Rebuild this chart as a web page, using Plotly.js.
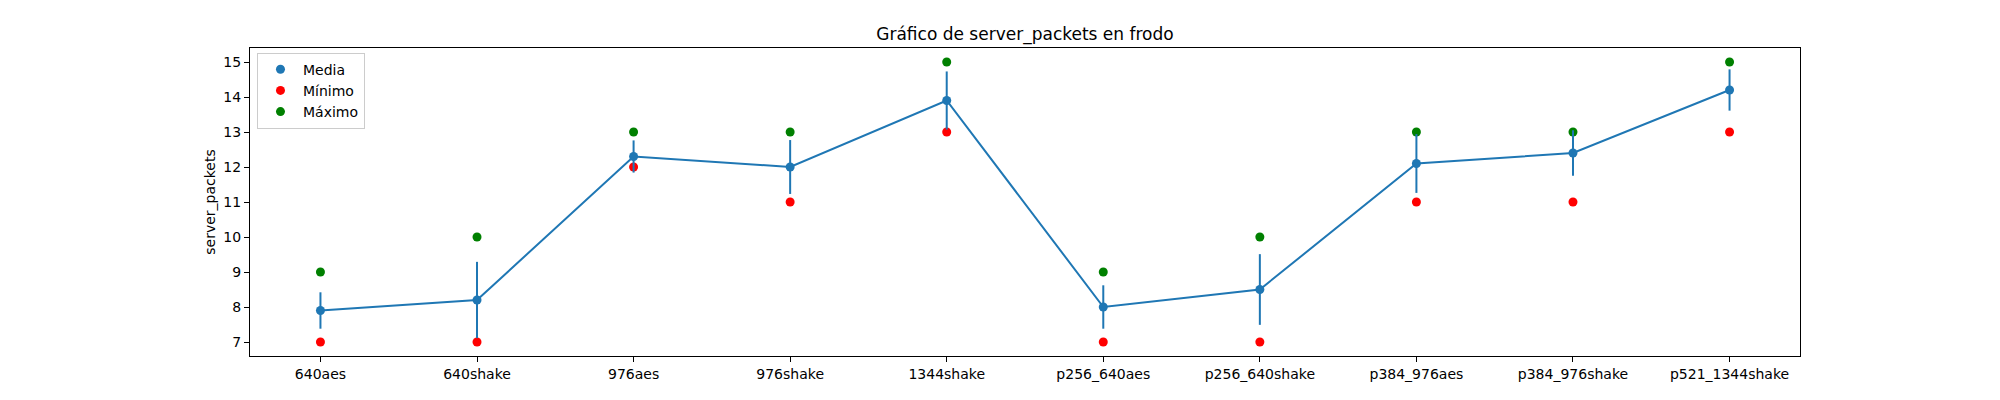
<!DOCTYPE html>
<html>
<head>
<meta charset="utf-8">
<script src="https://cdn.plot.ly/plotly-3.0.1.min.js"></script>
<style>html,body{margin:0;padding:0;background:#fff;}#chart{width:2000px;height:400px;}</style>
</head>
<body>
<div id="chart"></div>
<script>
const categories = ["640aes","640shake","976aes","976shake","1344shake","p256_640aes","p256_640shake","p384_976aes","p384_976shake","p521_1344shake"];
const meanValues = [7.9, 8.2, 12.3, 12.0, 13.9, 8.0, 8.5, 12.1, 12.4, 14.2];
const stdValues  = [0.52, 1.09, 0.46, 0.77, 0.83, 0.62, 1.01, 0.84, 0.65, 0.59];
const minValues  = [7, 7, 12, 11, 13, 7, 7, 11, 11, 13];
const maxValues  = [9, 10, 13, 13, 15, 9, 10, 13, 13, 15];

const font = "DejaVu Sans, sans-serif";
const blue = "#1f77b4";

const traces = [
  {x: categories, y: minValues, type: "scatter", mode: "markers", name: "Mínimo",
   marker: {color: "red", size: 9}, legendrank: 2},
  {x: categories, y: maxValues, type: "scatter", mode: "markers", name: "Máximo",
   marker: {color: "green", size: 9}, legendrank: 3},
  {x: categories, y: meanValues, type: "scatter", mode: "lines", showlegend: false,
   line: {color: blue, width: 2},
   error_y: {type: "data", array: stdValues, visible: true, color: blue, thickness: 2, width: 0}},
  {x: categories, y: meanValues, type: "scatter", mode: "markers", name: "Media",
   marker: {color: blue, size: 9}, legendrank: 1}
];

const layout = {
  width: 2000, height: 400,
  margin: {l: 250, r: 200, t: 48, b: 44},
  paper_bgcolor: "#fff", plot_bgcolor: "#fff",
  font: {family: font, size: 14, color: "#000"},
  title: {text: "Gráfico de server_packets en frodo", font: {family: font, size: 17, color: "#000"},
          x: 0.5125, xref: "container", xanchor: "center", y: 0.915, yref: "container", yanchor: "middle"},
  xaxis: {type: "category", range: [-0.45, 9.45], showgrid: false, zeroline: false,
          showline: true, mirror: true, linecolor: "#000", linewidth: 1,
          ticks: "outside", ticklen: 5, tickwidth: 1, tickcolor: "#000",
          tickfont: {family: font, size: 14, color: "#000"}},
  yaxis: {range: [6.6, 15.4], dtick: 1, tick0: 7, showgrid: false, zeroline: false,
          showline: true, mirror: true, linecolor: "#000", linewidth: 1,
          ticks: "outside", ticklen: 5, tickwidth: 1, tickcolor: "#000",
          tickfont: {family: font, size: 14, color: "#000"},
          title: {text: "server_packets", font: {family: font, size: 14, color: "#000"}, standoff: 4}},
  legend: {x: 0.0045, y: 0.985, xanchor: "left", yanchor: "top",
           bgcolor: "rgba(255,255,255,0.8)", bordercolor: "#cccccc", borderwidth: 1,
           font: {family: font, size: 14, color: "#000"}, itemwidth: 35},
  showlegend: true
};

Plotly.newPlot("chart", traces, layout, {displayModeBar: false, staticPlot: true});
</script>
</body>
</html>
